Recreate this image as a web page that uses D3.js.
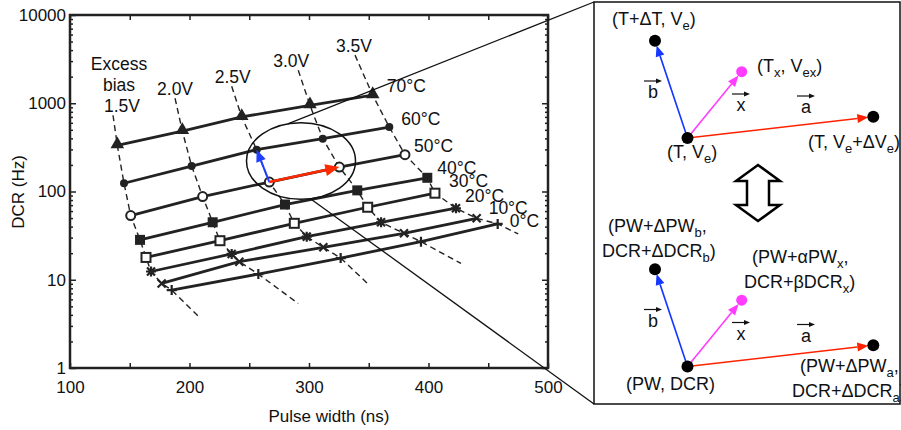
<!DOCTYPE html>
<meta charset="utf-8">

<script src="https://d3js.org/d3.v7.min.js"></script>

<style type="text/css">
body { margin: 0; background: #fff; }
text { font-family: "Liberation Sans", Arial, Helvetica, sans-serif; fill: #111; }
</style>

<body>
</body>

<script>

// temperatures (one solid curve each) and excess-bias columns (dashed curves)
var temps  = ["70°C", "60°C", "50°C", "40°C", "30°C", "20°C", "10°C", "0°C"];
var biases = ["1.5V", "2.0V", "2.5V", "3.0V", "3.5V"];
var markers = ["tri", "dot", "ocirc", "sq", "osq", "ast", "cross", "plus"];

// pulse width (ns) and DCR (Hz), one value per bias column
var pw70  = [139.6, 194.0, 243.7, 300.8, 353.3];
var dcr70 = [333, 484, 699, 949, 1233];
var pw60  = [145.2, 201.8, 256.2, 311.5, 367.2];
var dcr60 = [124, 194, 298, 397, 538];
var pw50  = [150.8, 211.0, 266.8, 325.4, 380.3];
var dcr50 = [53.4, 87.7, 128, 189, 261];
var pw40  = [158.6, 219.4, 279.9, 340.4, 399.0];
var dcr40 = [28.3, 44.8, 71.2, 103, 143];
var pw30  = [163.6, 225.5, 287.7, 349.1, 405.4];
var dcr30 = [17.9, 27.7, 43.6, 66.3, 95.7];
var pw20  = [167.8, 235.3, 298.1, 360.3, 423.0];
var dcr20 = [12.4, 19.6, 30.8, 44.8, 64.6];
var pw10  = [176.7, 241.7, 312.0, 379.5, 440.3];
var dcr10 = [9.08, 16.0, 23.3, 33.6, 49.7];
var pw0   = [185.1, 257.6, 326.5, 393.7, 457.9];
var dcr0  = [7.64, 11.6, 17.6, 27.0, 42.9];

// ends of the dashed constant-bias curves
var biasTopPW  = [136.0, 187.9, 235.3, 291.0, 338.5];
var biasTopDCR = [731, 1140, 1560, 2370, 3510];
var biasEndPW  = [208.8, 291.0, 351.0, 427.2, 475.1];
var biasEndDCR = [3.70, 5.38, 8.55, 15.3, 33.1];

var xTicks = [100, 200, 300, 400, 500];
var yTicks = [1, 10, 100, 1000, 10000];

var pwRows  = [pw70, pw60, pw50, pw40, pw30, pw20, pw10, pw0];
var dcrRows = [dcr70, dcr60, dcr50, dcr40, dcr30, dcr20, dcr10, dcr0];

var series = temps.map(function(t, i) {
  return { name: t, marker: markers[i],
           pts: pwRows[i].map(function(p, j) { return [p, dcrRows[i][j]]; }) };
});

// label nudges (pixels)
var tempLabelDx = [14, 12, 9, 10, 14, 9, 12, 12];
var tempLabelDy = [-3, -2, -3, -4, -6, -6, -4, 3];
var biasLabelDx = [9, 0, 1, -7, -1];

var width = 901, height = 430;
var plot = {left: 70, right: 548, top: 15, bottom: 368};

var svg = d3.select("body").append("svg")
    .attr("width", width)
    .attr("height", height);

var x = d3.scaleLinear().domain([100, 500]).range([plot.left, plot.right]);
var y = d3.scaleLog().domain([1, 10000]).range([plot.bottom, plot.top]);

var ink = "#222";

// ---- axes ----
var minorY = [];
[1, 10, 100, 1000].forEach(function(d) { for (var k = 2; k < 10; k++) minorY.push(d * k); });

function styleAxis(g) {
  g.select(".domain").remove();
  g.selectAll(".tick line").attr("stroke", ink).attr("stroke-width", 1.5);
  g.selectAll(".tick text").attr("font-size", 17).attr("fill", "#111")
    .attr("font-family", "Liberation Sans, Arial, sans-serif");
}

svg.append("g")
    .attr("transform", "translate(0," + plot.bottom + ")")
    .call(d3.axisBottom(x).tickValues(d3.range(100, 501, 50)).tickSize(-5).tickPadding(13)
      .tickFormat(function(d) { return d % 100 === 0 ? d : ""; }))
    .call(styleAxis);

svg.append("g")
    .attr("transform", "translate(0," + plot.top + ")")
    .call(d3.axisTop(x).tickValues(d3.range(100, 501, 50)).tickSize(-5).tickFormat(""))
    .call(styleAxis);

svg.append("g")
    .attr("transform", "translate(" + plot.left + ",0)")
    .call(d3.axisLeft(y).tickValues(yTicks).tickSize(-6).tickPadding(4).tickFormat(d3.format("d")))
    .call(styleAxis);

svg.append("g")
    .attr("transform", "translate(" + plot.left + ",0)")
    .call(d3.axisLeft(y).tickValues(minorY).tickSize(-3).tickFormat(""))
    .call(styleAxis);

svg.append("g")
    .attr("transform", "translate(" + plot.right + ",0)")
    .call(d3.axisRight(y).tickValues(yTicks).tickSize(-6).tickFormat(""))
    .call(styleAxis);

svg.append("g")
    .attr("transform", "translate(" + plot.right + ",0)")
    .call(d3.axisRight(y).tickValues(minorY).tickSize(-3).tickFormat(""))
    .call(styleAxis);

svg.append("rect")
    .attr("x", plot.left).attr("y", plot.top)
    .attr("width", plot.right - plot.left).attr("height", plot.bottom - plot.top)
    .attr("fill", "none").attr("stroke", ink).attr("stroke-width", 2.5);

svg.append("text")
    .attr("x", 329).attr("y", 422)
    .attr("text-anchor", "middle").attr("font-size", 17)
    .text("Pulse width (ns)");

svg.append("text")
    .attr("transform", "translate(24,192) rotate(-90)")
    .attr("text-anchor", "middle").attr("font-size", 17)
    .text("DCR (Hz)");

// ---- dashed constant-bias curves ----
var line = d3.line().x(function(d) { return x(d[0]); }).y(function(d) { return y(d[1]); });

biases.forEach(function(b, j) {
  var pts = [[biasTopPW[j], biasTopDCR[j]]];
  series.forEach(function(s) { pts.push(s.pts[j]); });
  pts.push([biasEndPW[j], biasEndDCR[j]]);
  svg.append("path")
      .attr("d", line(pts))
      .attr("fill", "none").attr("stroke", ink)
      .attr("stroke-width", 1.4).attr("stroke-dasharray", "6,4");
  svg.append("text")
      .attr("x", x(biasTopPW[j]) + biasLabelDx[j]).attr("y", y(biasTopDCR[j]) - 3)
      .attr("text-anchor", "middle").attr("font-size", 17.5)
      .text(b);
});

var bx = x(biasTopPW[0]) + biasLabelDx[0] - 3;
svg.append("text").attr("x", bx).attr("y", 70).attr("text-anchor", "middle").attr("font-size", 17.5).text("Excess");
svg.append("text").attr("x", bx).attr("y", 91).attr("text-anchor", "middle").attr("font-size", 17.5).text("bias");

// ---- solid temperature curves ----
series.forEach(function(s, i) {
  svg.append("path")
      .attr("d", line(s.pts))
      .attr("fill", "none").attr("stroke", ink).attr("stroke-width", 2.8);
  var last = s.pts[s.pts.length - 1];
  svg.append("text")
      .attr("x", x(last[0]) + tempLabelDx[i]).attr("y", y(last[1]) + tempLabelDy[i])
      .attr("font-size", 17.5)
      .text(s.name);
});

// ---- ellipse and arrows ----
var ell = {pw: 293.3, dcr: 222, rx: 54.5, ry: 38.3};
var ecx = x(ell.pw), ecy = y(ell.dcr);
svg.append("ellipse")
    .attr("cx", ecx).attr("cy", ecy).attr("rx", ell.rx).attr("ry", ell.ry)
    .attr("fill", "none").attr("stroke", "#111").attr("stroke-width", 1.5);

function arrow(g, x1, y1, x2, y2, color, w, hl, hw) {
  var a = Math.atan2(y2 - y1, x2 - x1);
  var bx = x2 - hl * Math.cos(a), by = y2 - hl * Math.sin(a);
  var px = -Math.sin(a) * hw, py = Math.cos(a) * hw;
  g.append("line").attr("x1", x1).attr("y1", y1).attr("x2", bx).attr("y2", by)
      .attr("stroke", color).attr("stroke-width", w);
  g.append("path")
      .attr("d", "M" + x2 + "," + y2 + "L" + (bx + px) + "," + (by + py) + "L" + (bx - px) + "," + (by - py) + "Z")
      .attr("fill", color);
}

var o = series[2].pts[2], tb = series[1].pts[2], ta = series[2].pts[3];

// ---- markers ----
function drawMarker(g, type, cx, cy) {
  var m = g.append("g").attr("transform", "translate(" + cx + "," + cy + ")");
  if (type === "tri") {
    m.append("path").attr("d", d3.symbol(d3.symbolTriangle, 80)()).attr("transform", "translate(0,-1)").attr("fill", ink);
  } else if (type === "dot") {
    m.append("circle").attr("r", 4).attr("fill", ink);
  } else if (type === "ocirc") {
    m.append("circle").attr("r", 4.5).attr("fill", "#fff").attr("stroke", ink).attr("stroke-width", 2);
  } else if (type === "sq") {
    m.append("rect").attr("x", -5).attr("y", -5).attr("width", 10).attr("height", 10).attr("fill", ink);
  } else if (type === "osq") {
    m.append("rect").attr("x", -4.5).attr("y", -4.5).attr("width", 9).attr("height", 9)
      .attr("fill", "#fff").attr("stroke", ink).attr("stroke-width", 2);
  } else {
    var r = 5, d = "";
    if (type === "plus" || type === "ast") d += "M" + (-r) + ",0H" + r + "M0," + (-r) + "V" + r;
    if (type === "cross" || type === "ast") d += "M-4,-4L4,4M-4,4L4,-4";
    m.append("path").attr("d", d).attr("stroke", ink).attr("stroke-width", 2.2).attr("fill", "none");
  }
}

series.forEach(function(s) {
  s.pts.forEach(function(p) { drawMarker(svg, s.marker, x(p[0]), y(p[1])); });
});

arrow(svg, x(o[0]), y(o[1]), x(tb[0]), y(tb[1]), "#1f3fff", 2, 12, 5);
arrow(svg, x(o[0]), y(o[1]), x(ta[0]), y(ta[1]), "#ff2a00", 2.5, 14, 6);

// ---- right panel ----
var box = {x: 594, y: 2, w: 306, h: 402};

function ellPoint(deg) {
  var t = deg * Math.PI / 180;
  return [ecx + ell.rx * Math.cos(t), ecy + ell.ry * Math.sin(t)];
}
var p1 = ellPoint(-104), p2 = ellPoint(80);
svg.append("line").attr("x1", p1[0]).attr("y1", p1[1]).attr("x2", box.x).attr("y2", box.y)
    .attr("stroke", "#111").attr("stroke-width", 1.3);
svg.append("line").attr("x1", p2[0]).attr("y1", p2[1]).attr("x2", box.x).attr("y2", box.y + box.h)
    .attr("stroke", "#111").attr("stroke-width", 1.3);

svg.append("rect")
    .attr("x", box.x).attr("y", box.y).attr("width", box.w).attr("height", box.h)
    .attr("fill", "#fff").attr("stroke", "#111").attr("stroke-width", 1.5);

function subText(g, x0, y0, parts) {
  var t = g.append("text").attr("x", x0).attr("y", y0).attr("font-size", 18);
  var cur = 0;
  parts.forEach(function(p) {
    var sub = Array.isArray(p), off = sub ? 5 : 0;
    t.append("tspan").attr("dy", off - cur).attr("font-size", sub ? 13 : 18).text(sub ? p[0] : p);
    cur = off;
  });
}

function vecLabel(g, cx, by, ch) {
  g.append("text").attr("x", cx).attr("y", by).attr("text-anchor", "middle").attr("font-size", 18).text(ch);
  arrow(g, cx - 9, by - 17, cx + 9, by - 17, "#111", 1.2, 6, 2.5);
}

var vO = [687.5, 138], vB = [655, 40.7], vA = [873.3, 116.7], vX = [741.7, 71.7];

function vectorDiagram(dy) {
  var g = svg.append("g").attr("transform", "translate(0," + dy + ")");
  function toEdge(p, r) {
    var a = Math.atan2(p[1] - vO[1], p[0] - vO[0]);
    return [p[0] - r * Math.cos(a), p[1] - r * Math.sin(a)];
  }
  var eb = toEdge(vB, 5), ea = toEdge(vA, 5), ex = toEdge(vX, 5);
  arrow(g, vO[0], vO[1], eb[0], eb[1], "#1537ff", 1.6, 11, 4.5);
  arrow(g, vO[0], vO[1], ex[0], ex[1], "#ff3cff", 1.6, 11, 4.5);
  arrow(g, vO[0], vO[1], ea[0], ea[1], "#ff2200", 1.6, 11, 4.5);
  g.append("circle").attr("cx", vO[0]).attr("cy", vO[1]).attr("r", 6).attr("fill", "#000");
  g.append("circle").attr("cx", vB[0]).attr("cy", vB[1]).attr("r", 6).attr("fill", "#000");
  g.append("circle").attr("cx", vA[0]).attr("cy", vA[1]).attr("r", 6).attr("fill", "#000");
  g.append("circle").attr("cx", vX[0]).attr("cy", vX[1]).attr("r", 5.5).attr("fill", "#ff3cff");
  vecLabel(g, 653, 98, "b");
  vecLabel(g, 741, 111, "x");
  vecLabel(g, 806, 113, "a");
  return g;
}

var upperG = vectorDiagram(0);
subText(upperG, 612, 25, ["(T+ΔT, V", ["e"], ")"]);
subText(upperG, 757, 72, ["(T", ["x"], ", V", ["ex"], ")"]);
subText(upperG, 667, 158, ["(T, V", ["e"], ")"]);
subText(upperG, 808, 148, ["(T, V", ["e"], "+ΔV", ["e"], ")"]);

var lowerG = vectorDiagram(228.5);
subText(svg, 608, 232, ["(PW+ΔPW", ["b"], ","]);
subText(svg, 602, 257, ["DCR+ΔDCR", ["b"], ")"]);
subText(svg, 752, 263, ["(PW+αPW", ["x"], ","]);
subText(svg, 744, 288, ["DCR+βDCR", ["x"], ")"]);
subText(svg, 626, 390, ["(PW, DCR)"]);
subText(svg, 800, 372, ["(PW+ΔPW", ["a"], ","]);
subText(svg, 792, 397, ["DCR+ΔDCR", ["a"], ")"]);

// hollow double arrow between the two diagrams
var dArrow = [[0, 0], [22, 16], [11, 16], [11, 40], [22, 40], [0, 56], [-22, 40], [-11, 40], [-11, 16], [-22, 16]];
svg.append("path")
    .attr("transform", "translate(758,165)")
    .attr("d", "M" + dArrow.join("L") + "Z")
    .attr("fill", "#fff").attr("stroke", "#000").attr("stroke-width", 2.5);

</script>
